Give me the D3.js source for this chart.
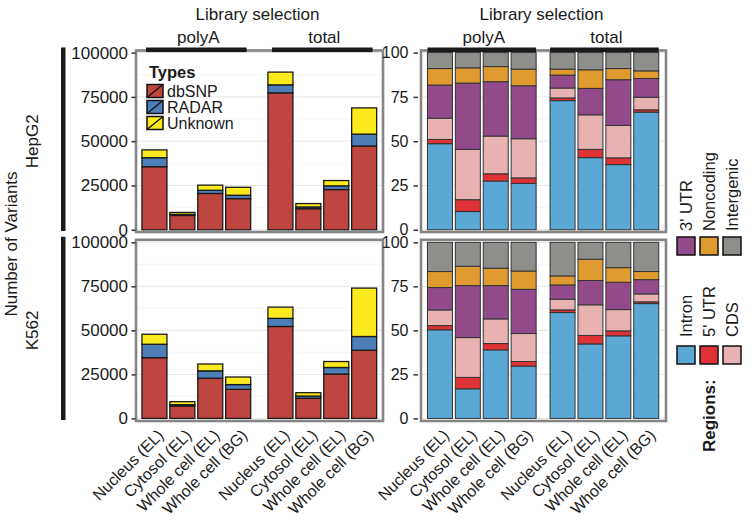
<!DOCTYPE html>
<html><head><meta charset="utf-8">
<script src="https://cdn.jsdelivr.net/npm/d3@7"></script>
<style>
body{margin:0;background:#fff}
svg{display:block}
text{font-family:"Liberation Sans",Arial,Helvetica,sans-serif;fill:#1a1a1a}
</style>
</head><body>
<svg id="chart" width="751" height="525"></svg>
<script>
// ---------------- DATA ----------------
const cellLines = ["HepG2", "K562"];
const libraries = ["polyA", "total"];
const samples = ["Nucleus (EL)", "Cytosol (EL)", "Whole cell (EL)", "Whole cell (BG)"];
const types = ["dbSNP", "RADAR", "Unknown"];
const regions = ["Intron", "5' UTR", "CDS", "3' UTR", "Noncoding", "Intergenic"];
const countTicks = [0, 25000, 50000, 75000, 100000];
const pctTicks = [0, 25, 50, 75, 100];

// order of 8 values: polyA (4 samples), then total (4 samples)
const hepg2_dbSNP   = [35600, 8100, 20500, 17600, 77300, 11900, 22700, 47300];
const hepg2_RADAR   = [5100, 600, 1800, 1900, 4500, 1000, 2100, 6700];
const hepg2_Unknown = [4400, 1100, 2900, 4500, 7200, 1900, 3000, 14800];
const k562_dbSNP    = [34500, 7000, 22800, 16500, 52200, 11400, 25200, 38700];
const k562_RADAR    = [7600, 800, 4200, 2700, 4600, 1300, 3700, 7800];
const k562_Unknown  = [5700, 1700, 3900, 4300, 6400, 1900, 3400, 27500];

// region percentages
const hepg2_Intron     = [48.6, 10.3, 27.5, 26.2, 72.9, 40.7, 36.8, 66.4];
const hepg2_UTR5       = [2.4, 6.7, 4.1, 3.1, 1.5, 4.7, 3.8, 1.3];
const hepg2_CDS        = [12.0, 28.4, 21.3, 22.1, 5.6, 19.5, 18.3, 7.1];
const hepg2_UTR3       = [18.7, 37.4, 30.7, 29.9, 7.3, 14.9, 25.8, 10.6];
const hepg2_Noncoding  = [9.3, 8.6, 8.5, 9.4, 3.4, 10.5, 6.3, 4.3];
const hepg2_Intergenic = [9.0, 8.6, 7.9, 9.3, 9.3, 9.7, 9.0, 10.3];
const k562_Intron      = [50.3, 16.8, 38.9, 29.7, 60.1, 42.3, 46.9, 65.2];
const k562_UTR5        = [2.4, 6.5, 3.6, 2.6, 1.5, 4.8, 2.8, 1.0];
const k562_CDS         = [8.9, 22.6, 14.0, 15.9, 6.1, 17.4, 12.1, 4.5];
const k562_UTR3        = [12.7, 29.5, 18.9, 25.1, 8.1, 13.8, 15.5, 8.1];
const k562_Noncoding   = [9.1, 11.0, 9.9, 10.4, 5.1, 12.1, 8.3, 4.6];
const k562_Intergenic  = [16.6, 13.6, 14.7, 16.3, 19.1, 9.6, 14.4, 16.6];

const typeColors = ["#BF4540", "#4E7EB7", "#FBEA1E"];
const regionColors = ["#5BA8D4", "#DE3236", "#E8B1B2", "#934A8B", "#DF9A30", "#8E8E8A"];

// -------------- BUILD TABLES --------------
function rowsFrom(cols, keys) {
  const out = [];
  libraries.forEach((lib, li) => samples.forEach((s, si) => {
    const i = li * samples.length + si;
    const o = {library: lib, sample: s};
    keys.forEach((k, ki) => o[k] = cols[ki][i]);
    out.push(o);
  }));
  return out;
}
const countData = {
  HepG2: rowsFrom([hepg2_dbSNP, hepg2_RADAR, hepg2_Unknown], types),
  K562: rowsFrom([k562_dbSNP, k562_RADAR, k562_Unknown], types)
};
const pctData = {
  HepG2: rowsFrom([hepg2_Intron, hepg2_UTR5, hepg2_CDS, hepg2_UTR3, hepg2_Noncoding, hepg2_Intergenic], regions),
  K562: rowsFrom([k562_Intron, k562_UTR5, k562_CDS, k562_UTR3, k562_Noncoding, k562_Intergenic], regions)
};

// -------------- LAYOUT --------------
const svg = d3.select("#chart");
const FONT = '"Liberation Sans",Arial,Helvetica,sans-serif';
const rowY = {HepG2: [229.8, 52.6], K562: [418.4, 242.3]};
const rowBox = {HepG2: [50.5, 232], K562: [239.8, 421]};
const panels = [
  {kind: "count", box: [136, 383], inner: [140.5, 378.1], pad: 0.114, stripInset: 5.5,
   domain: [0, 100000], ticks: countTicks, tickFont: 17, axisX: 135.5, tickSize: 4, tickPad: 3.5,
   keys: types, colors: typeColors, data: countData, stroke: "#1a1a1a", sw: 1.3},
  {kind: "pct", box: [421, 666], inner: [426, 660.2], pad: 0.09, stripInset: 0,
   domain: [0, 100], ticks: pctTicks, tickFont: 16, axisX: 418, tickSize: 4.5, tickPad: 5,
   keys: regions, colors: regionColors, data: pctData, stroke: "#333", sw: 1}
];

panels.forEach(p => {
  const outer = d3.scaleBand().domain(libraries).range(p.inner).paddingInner(p.pad);
  const inner = d3.scaleBand().domain(samples).range([0, outer.bandwidth()])
    .paddingInner(0.104).paddingOuter(0.052);
  const color = d3.scaleOrdinal().domain(p.keys).range(p.colors);

  cellLines.forEach(cl => {
    const y = d3.scaleLinear().domain(p.domain).range(rowY[cl]);
    const [by0, by1] = rowBox[cl];
    const g = svg.append("g");
    g.append("rect").attr("x", p.box[0]).attr("y", by0)
      .attr("width", p.box[1] - p.box[0]).attr("height", by1 - by0).attr("fill", "#fff");
    const minor = d3.pairs(p.ticks).map(([a, b]) => (a + b) / 2);
    g.selectAll(null).data(minor).join("line")
      .attr("x1", p.box[0]).attr("x2", p.box[1])
      .attr("y1", d => y(d)).attr("y2", d => y(d))
      .attr("stroke", "#f2f2f2").attr("stroke-width", 0.7);
    g.selectAll(null).data(p.ticks).join("line")
      .attr("x1", p.box[0]).attr("x2", p.box[1])
      .attr("y1", d => y(d)).attr("y2", d => y(d))
      .attr("stroke", "#e6e6e6").attr("stroke-width", 1);

    const stacked = d3.stack().keys(p.keys)(p.data[cl]);
    g.selectAll(null).data(stacked).join("g")
      .attr("fill", d => color(d.key))
      .selectAll("rect").data(d => d).join("rect")
      .attr("x", d => outer(d.data.library) + inner(d.data.sample))
      .attr("width", inner.bandwidth())
      .attr("y", d => y(d[1]))
      .attr("height", d => y(d[0]) - y(d[1]))
      .attr("stroke", p.stroke).attr("stroke-width", p.sw);

    g.append("rect").attr("x", p.box[0]).attr("y", by0)
      .attr("width", p.box[1] - p.box[0]).attr("height", by1 - by0)
      .attr("fill", "none").attr("stroke", "#858585").attr("stroke-width", 2.6);

    const ax = svg.append("g").attr("transform", `translate(${p.axisX},0)`)
      .call(d3.axisLeft(y).tickValues(p.ticks).tickFormat(d3.format("d"))
        .tickSize(p.tickSize).tickPadding(p.tickPad));
    ax.select(".domain").remove();
    ax.selectAll(".tick line").attr("stroke", "#333").attr("stroke-width", 1.5);
    ax.selectAll(".tick text").attr("font-size", p.tickFont).attr("font-family", FONT).attr("fill", "#222");
  });

  // top strips
  const cx = (p.box[0] + p.box[1]) / 2;
  svg.append("text").attr("x", cx - 2).attr("y", 20).attr("text-anchor", "middle")
    .attr("font-size", 17).text("Library selection");
  libraries.forEach(lib => {
    const x0 = outer(lib) + (p.stripInset || inner(samples[0]));
    const x1 = outer(lib) + outer.bandwidth() - (p.stripInset || inner(samples[0]));
    svg.append("rect").attr("x", x0).attr("y", 47.5).attr("width", x1 - x0).attr("height", 4.6)
      .attr("fill", "#1a1a1a");
    svg.append("text").attr("x", (x0 + x1) / 2 + 2).attr("y", 43).attr("text-anchor", "middle")
      .attr("font-size", 17).text(lib);
  });

  // x labels
  libraries.forEach(lib => samples.forEach(s => {
    const x = outer(lib) + inner(s) + inner.bandwidth() / 2;
    svg.append("text").attr("transform", `translate(${x + 2},428) rotate(-45)`)
      .attr("text-anchor", "end").attr("dy", "0.72em").attr("font-size", 16).text(s);
  }));
});

// row strips (left)
cellLines.forEach(cl => {
  const [b0, b1] = rowBox[cl];
  svg.append("rect").attr("x", 61).attr("y", b0 - 3).attr("width", 4.5).attr("height", b1 - b0 + 2)
    .attr("fill", "#1a1a1a");
  svg.append("text").attr("transform", `translate(32,${(b0 + b1) / 2}) rotate(-90)`)
    .attr("text-anchor", "middle").attr("dy", "0.35em").attr("font-size", 17).text(cl);
});
svg.append("text").attr("transform", `translate(11,244) rotate(-90)`)
  .attr("text-anchor", "middle").attr("dy", "0.35em").attr("font-size", 17).text("Number of Variants");

// Types legend (inside top-left panel)
const lg = svg.append("g");
lg.append("text").attr("x", 149).attr("y", 78).attr("font-size", 16.5).attr("font-weight", "bold").text("Types");
types.forEach((t, i) => {
  const yy = 84.5 + i * 16;
  lg.append("rect").attr("x", 147).attr("y", yy).attr("width", 16).attr("height", 13)
    .attr("fill", typeColors[i]).attr("stroke", "#111").attr("stroke-width", 1.5);
  lg.append("line").attr("x1", 147).attr("y1", yy + 13).attr("x2", 163).attr("y2", yy)
    .attr("stroke", "#111").attr("stroke-width", 1.3);
  lg.append("text").attr("x", 167).attr("y", yy + 6.5).attr("dy", "0.36em").attr("font-size", 16).text(t);
});

// Regions legend (rotated, right side)
const rg = svg.append("g");
const colX = [686, 709, 732];
rg.append("text").attr("transform", `translate(${colX[1]},452) rotate(-90)`)
  .attr("dy", "0.36em").attr("font-size", 17).attr("font-weight", "bold").text("Regions:");
const keyRows = [{yTop: 346, labelStart: 337}, {yTop: 237, labelStart: 231}];
regions.forEach((r, i) => {
  const row = keyRows[Math.floor(i / 3)];
  const col = i % 3;
  rg.append("rect").attr("x", colX[col] - 9).attr("y", row.yTop).attr("width", 18).attr("height", 18)
    .attr("fill", regionColors[i]).attr("stroke", "#111").attr("stroke-width", 1.5);
  rg.append("text").attr("transform", `translate(${colX[col]},${row.labelStart}) rotate(-90)`)
    .attr("dy", "0.36em").attr("font-size", 16.5).text(r);
});
</script>
</body></html>
